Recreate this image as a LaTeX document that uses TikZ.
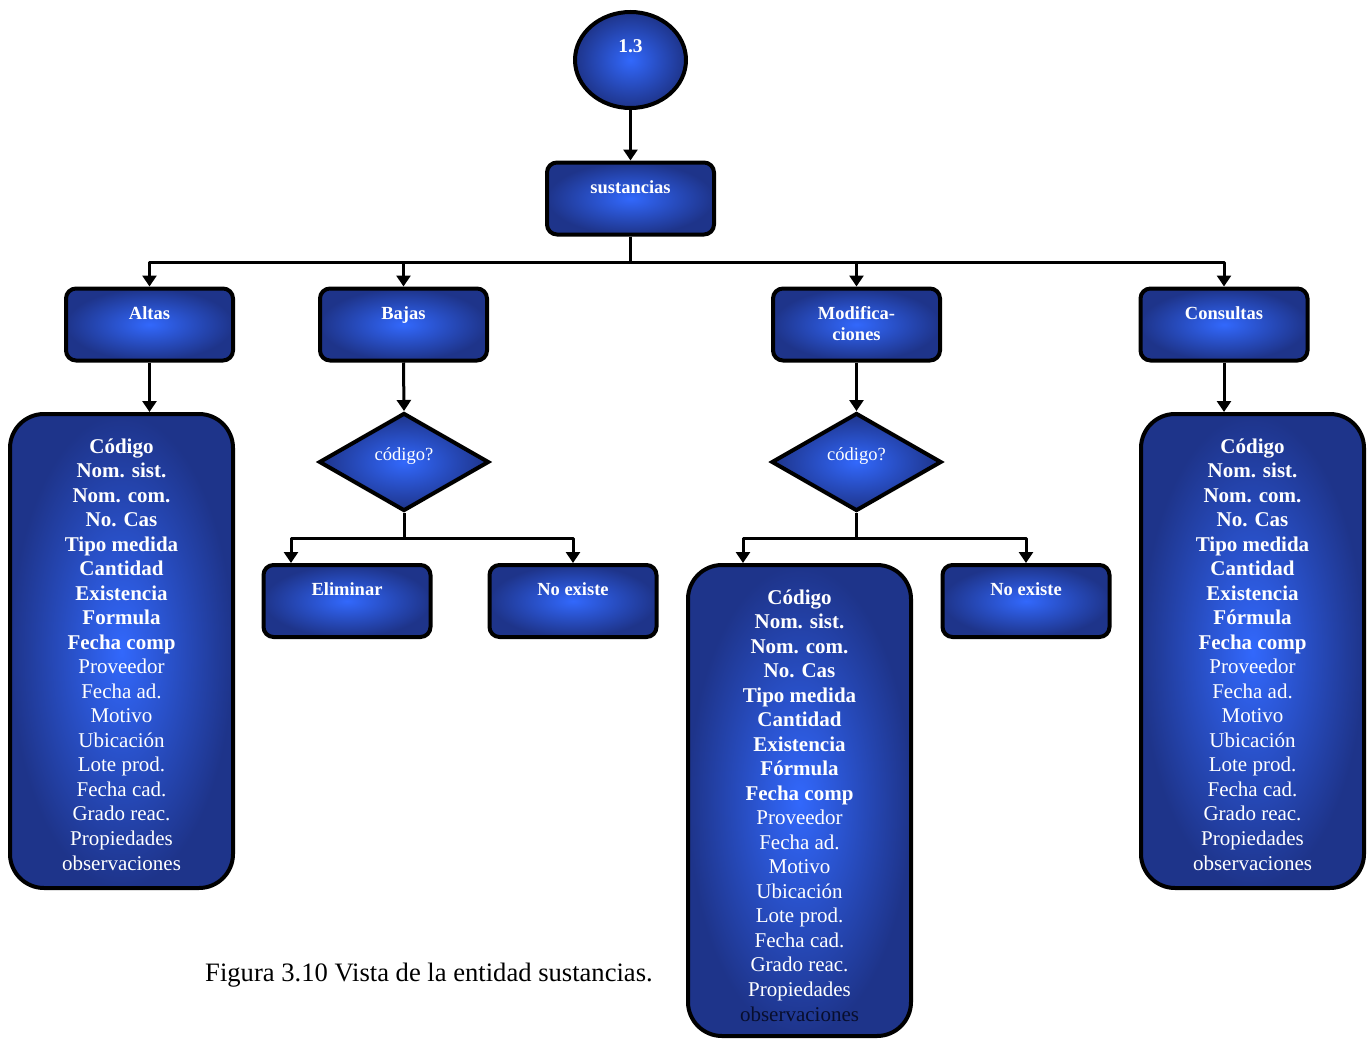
\documentclass[tikz,border=0pt]{standalone}
\usepackage{fontspec}
\setmainfont{Liberation Serif}
\usetikzlibrary{shapes.geometric,arrows.meta}
\definecolor{navyedge}{RGB}{30,52,138}
\definecolor{bluecore}{RGB}{50,104,252}
\definecolor{darkline}{RGB}{8,14,45}

% one column of entries in a list box: #1 prefix, #2 x, #3 first baseline, #4 colour of last line, #5 entries
\newcommand\entrycolumn[5]{%
  \foreach \t [count=\i] in {#5}
    \node[listline] (#1-\i) at ({#2},{#3+24.53*(\i-1)})
      {\ifnum\i<10 \bfseries\fi\ifnum\i=18 \color{#4}\fi\t};
}

\begin{document}
\begin{tikzpicture}[x=1pt,y=-1pt,
  bluefill/.style={draw=black, line width=4pt, inner color=bluecore, outer color=navyedge},
  smallbox/.style={bluefill, rectangle, rounded corners=10pt, minimum width=167pt, minimum height=72pt, inner sep=0pt},
  listbox/.style={bluefill, rectangle, rounded corners=34pt, minimum width=223pt, inner sep=0pt},
  decision/.style={bluefill, diamond, minimum width=170pt, minimum height=98pt, inner sep=0pt},
  startnode/.style={bluefill, ellipse, minimum width=111pt, minimum height=96pt, inner sep=0pt},
  boxlabel/.style={text=white, font=\fontsize{18.5}{21}\selectfont\bfseries, anchor=base, inner sep=0pt},
  asklabel/.style={text=white, font=\fontsize{18.5}{21}\selectfont, anchor=base, inner sep=0pt},
  listline/.style={text=white, font=\fontsize{21}{24}\selectfont, anchor=base, inner sep=0pt},
  link/.style={draw=black, line width=3pt, line join=round},
  arr/.style={link, -{Triangle[width=14pt,length=11pt]}},
]
\useasboundingbox (0,0) rectangle (1371,1041);

% start bubble and entity box
\node[startnode] (c13) at (630.5,60) {};
\node[boxlabel, font=\fontsize{19.5}{21}\selectfont\bfseries] (c13t) at (630.5,53) {1.3};
\node[smallbox] (sust) at (630.5,198.5) {};
\node[boxlabel] (sustt) at (630.5,193) {sustancias};

% operation boxes
\node[smallbox] (altas) at (149.5,324.5) {};
\node[boxlabel] (altast) at (149.5,319) {Altas};
\node[smallbox] (bajas) at (403.5,324.5) {};
\node[boxlabel] (bajast) at (403.5,319) {Bajas};
\node[smallbox] (modif) at (856.5,324.5) {};
\node[boxlabel] (modift1) at (856.5,319.5) {Modifica-};
\node[boxlabel] (modift2) at (856.5,340) {ciones};
\node[smallbox] (cons) at (1224,324.5) {};
\node[boxlabel] (const) at (1224,319) {Consultas};

% decisions
\node[decision] (dia1) at (404,462) {};
\node[asklabel] (dia1t) at (404,460) {código?};
\node[decision] (dia2) at (856.5,462) {};
\node[asklabel] (dia2t) at (856.5,460) {código?};

% result boxes
\node[smallbox] (elim) at (347,601) {};
\node[boxlabel] (elimt) at (347,595) {Eliminar};
\node[smallbox] (noex1) at (573,601) {};
\node[boxlabel] (noex1t) at (573,595) {No existe};
\node[smallbox] (noex2) at (1026,601) {};
\node[boxlabel] (noex2t) at (1026,595) {No existe};

% field lists
\node[listbox, minimum height=474pt] (listA) at (121.5,651) {};
\node[listbox, minimum height=471pt] (listM) at (799.5,800.5) {};
\node[listbox, minimum height=474pt] (listC) at (1252.5,651) {};

\entrycolumn{la}{121.5}{453}{white}{Código,Nom. sist.,Nom. com.,No. Cas,Tipo medida,Cantidad,Existencia,Formula,Fecha comp,Proveedor,Fecha ad.,Motivo,Ubicación,Lote prod.,Fecha cad.,Grado reac.,Propiedades,observaciones}
\entrycolumn{lm}{799.5}{604}{darkline}{Código,Nom. sist.,Nom. com.,No. Cas,Tipo medida,Cantidad,Existencia,Fórmula,Fecha comp,Proveedor,Fecha ad.,Motivo,Ubicación,Lote prod.,Fecha cad.,Grado reac.,Propiedades,observaciones}
\entrycolumn{lc}{1252.5}{453}{white}{Código,Nom. sist.,Nom. com.,No. Cas,Tipo medida,Cantidad,Existencia,Fórmula,Fecha comp,Proveedor,Fecha ad.,Motivo,Ubicación,Lote prod.,Fecha cad.,Grado reac.,Propiedades,observaciones}

% connectors
\coordinate (bus) at (630.5,262);
\coordinate (forkB) at (404,538);
\coordinate (forkM) at (856.5,538);
\coordinate (elimIn) at (291,538);
\coordinate (listMIn) at (743,538);

\draw[arr] (c13.south) -- (sust.north);
\draw[arr] (sust.south) -- (bus) -- (altas.north |- bus) -- (altas.north);
\draw[arr] (sust.south) -- (bus) -- (cons.north |- bus) -- (cons.north);
\draw[arr] (bajas.north |- bus) -- (bajas.north);
\draw[arr] (modif.north |- bus) -- (modif.north);

\draw[arr] (altas.south) -- (altas.south |- listA.north);
\draw[arr] (cons.south) -- (cons.south |- listC.north);

\draw[arr] (bajas.south) -- (dia1.north);
\draw[arr] (dia1.south) -- (forkB) -- (elimIn) -- (elimIn |- elim.north);
\draw[arr] (dia1.south) -- (forkB) -- (noex1.north |- forkB) -- (noex1.north);

\draw[arr] (modif.south) -- (dia2.north);
\draw[arr] (dia2.south) -- (forkM) -- (listMIn) -- (listMIn |- listM.north);
\draw[arr] (dia2.south) -- (forkM) -- (noex2.north |- forkM) -- (noex2.north);

% caption
\node[font=\fontsize{26.6}{30}\selectfont, anchor=base, inner sep=0pt] (caption) at (429,981) {Figura 3.10 Vista de la entidad sustancias.};
\end{tikzpicture}
\end{document}
